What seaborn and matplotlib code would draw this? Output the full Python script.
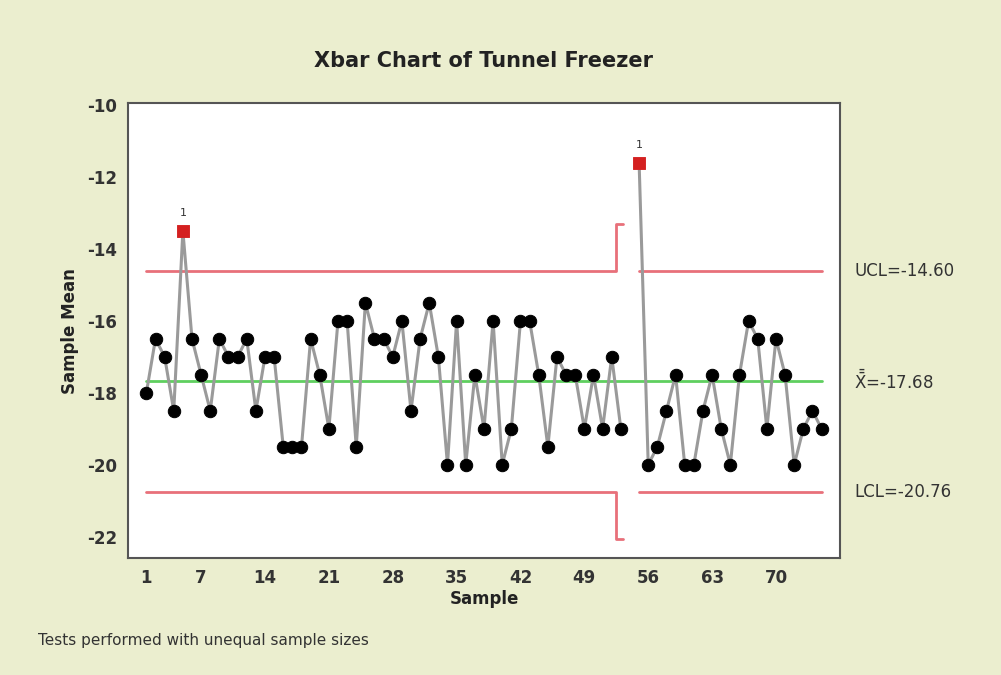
import numpy as np
import pandas as pd
import seaborn as sns
import matplotlib.pyplot as plt
from matplotlib.transforms import blended_transform_factory

# sample numbers (sample 54 has no data)
samples = list(range(1, 54)) + list(range(55, 76))
means = [
    -18.0, -16.5, -17.0, -18.5, -13.5, -16.5, -17.5, -18.5, -16.5, -17.0,
    -17.0, -16.5, -18.5, -17.0, -17.0, -19.5, -19.5, -19.5, -16.5, -17.5,
    -19.0, -16.0, -16.0, -19.5, -15.5, -16.5, -16.5, -17.0, -16.0, -18.5,
    -16.5, -15.5, -17.0, -20.0, -16.0, -20.0, -17.5, -19.0, -16.0, -20.0,
    -19.0, -16.0, -16.0, -17.5, -19.5, -17.0, -17.5, -17.5, -19.0, -17.5,
    -19.0, -17.0, -19.0,
    -11.6, -20.0, -19.5, -18.5, -17.5, -20.0, -20.0, -18.5, -17.5, -19.0,
    -20.0, -17.5, -16.0, -16.5, -19.0, -16.5, -17.5, -20.0, -19.0, -18.5,
    -19.0,
]
flagged = [5, 55]

center = -17.68
ucl = -14.60
lcl = -20.76
ucl_53 = -13.30
lcl_53 = -22.06

x_ticks = [1, 7, 14, 21, 28, 35, 42, 49, 56, 63, 70]
y_ticks = [-10, -12, -14, -16, -18, -20, -22]

df = pd.DataFrame({"Sample": samples, "Mean": means})
df["seg"] = np.where(df["Sample"] < 54, 0, 1)
df["flag"] = df["Sample"].isin(flagged)

sns.set_style("white")
plt.rcParams["font.family"] = ["DejaVu Sans"]
plt.rcParams["axes.unicode_minus"] = False

bg = "#ebeecf"
fig = plt.figure(figsize=(10.01, 6.75), dpi=100, facecolor=bg)
ax = fig.add_axes([0.128, 0.173, 0.711, 0.674])
ax.set_facecolor("white")

# control limits (step at sample 53, gap at 54)
lim_col = "#e8707a"
ax.plot([1, 52.5, 52.5, 53.2], [ucl, ucl, ucl_53, ucl_53], color=lim_col, lw=2)
ax.plot([1, 52.5, 52.5, 53.2], [lcl, lcl, lcl_53, lcl_53], color=lim_col, lw=2)
ax.plot([55, 75], [ucl, ucl], color=lim_col, lw=2)
ax.plot([55, 75], [lcl, lcl], color=lim_col, lw=2)
ax.plot([1, 75], [center, center], color="#5fcf5f", lw=2)

sns.lineplot(data=df, x="Sample", y="Mean", units="seg", estimator=None,
             color="#9a9a9a", lw=2.2, ax=ax, zorder=3)
sns.scatterplot(data=df[~df["flag"]], x="Sample", y="Mean", color="black",
                s=80, edgecolor="black", ax=ax, zorder=4)
sns.scatterplot(data=df[df["flag"]], x="Sample", y="Mean", color="#d42020",
                marker="s", s=65, edgecolor="#d42020", ax=ax, zorder=5)
for s, m in zip(df.loc[df["flag"], "Sample"], df.loc[df["flag"], "Mean"]):
    ax.text(s, m + 0.35, "1", ha="center", va="bottom", fontsize=8, color="#333333")

ax.set_xlim(-1, 77)
ax.set_ylim(-22.6, -9.95)
ax.set_xticks(x_ticks)
ax.set_yticks(y_ticks)
ax.tick_params(axis="both", direction="out", length=6, width=1.2, color="#555555",
               labelsize=12, labelcolor="#333333", pad=2)
for lab in ax.get_xticklabels() + ax.get_yticklabels():
    lab.set_fontweight("bold")
for sp in ax.spines.values():
    sp.set_color("#555555")
    sp.set_linewidth(1.5)

ax.set_xlabel("Sample", fontsize=12, fontweight="bold", color="#222222", labelpad=2)
ax.set_ylabel("Sample Mean", fontsize=12, fontweight="bold", color="#222222", labelpad=6)
ax.set_title("Xbar Chart of Tunnel Freezer", fontsize=15, fontweight="bold",
             color="#222222", pad=26)

tr = blended_transform_factory(ax.transAxes, ax.transData)
ax.text(1.02, ucl, "UCL=-14.60", transform=tr, va="center", fontsize=12, color="#333333")
ax.text(1.02, center, r"$\bar{\bar{\mathrm{X}}}$=-17.68", transform=tr, va="center",
        fontsize=12, color="#333333")
ax.text(1.02, lcl, "LCL=-20.76", transform=tr, va="center", fontsize=12, color="#333333")

fig.text(0.038, 0.044, "Tests performed with unequal sample sizes", fontsize=11,
         color="#333333")

fig.savefig("out.png", dpi=100, facecolor=bg)
